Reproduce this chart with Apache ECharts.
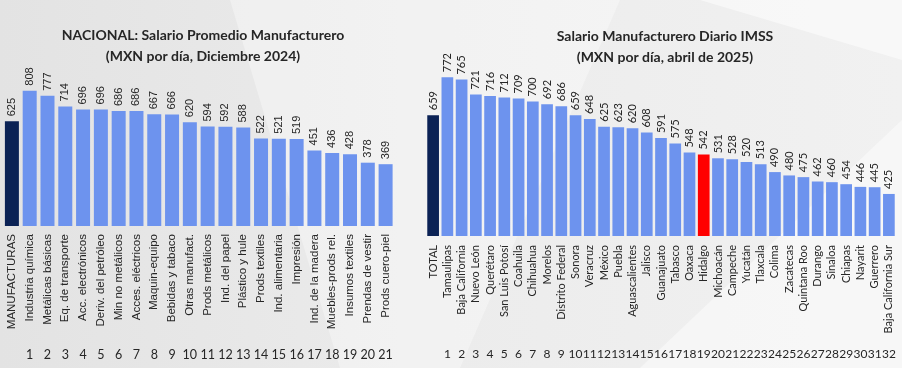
<!DOCTYPE html>
<html>
<head>
<meta charset="utf-8">
<script src="https://cdn.jsdelivr.net/npm/echarts@6/dist/echarts.min.js"></script>
<style>
html,body{margin:0;padding:0;background:#ebebeb;}
#chart{width:902px;height:368px;}
</style>
</head>
<body>
<div id="chart"></div>
<script>
// ---- Left panel data ----
const leftCategories = ['MANUFACTURAS','Industria química','Metálicas básicas','Eq. de transporte','Acc. electrónicos','Deriv. del petróleo','Min no metálicos','Acces. eléctricos','Maquin-equipo','Bebidas y tabaco','Otras manufact.','Prods metálicos','Ind. del papel','Plástico y hule','Prods textiles','Ind. alimentaria','Impresión','Ind. de la madera','Muebles-prods rel.','Insumos textiles','Prendas de vestir','Prods cuero-piel'];
const leftValues = [625,808,777,714,696,696,686,686,667,666,620,594,592,588,522,521,519,451,436,428,378,369];
const leftIndex = ['','1','2','3','4','5','6','7','8','9','10','11','12','13','14','15','16','17','18','19','20','21'];
const leftTitle = 'NACIONAL: Salario Promedio Manufacturero\n(MXN por día, Diciembre 2024)';

// ---- Right panel data ----
const rightCategories = ['TOTAL','Tamaulipas','Baja California','Nuevo León','Querétaro','San Luis Potosí','Coahuila','Chihuahua','Morelos','Distrito Federal','Sonora','Veracruz','México','Puebla','Aguascalientes','Jalisco','Guanajuato','Tabasco','Oaxaca','Hidalgo','Michoacán','Campeche','Yucatán','Tlaxcala','Colima','Zacatecas','Quintana Roo','Durango','Sinaloa','Chiapas','Nayarit','Guerrero','Baja California Sur'];
const rightValues = [659,772,765,721,716,712,709,700,692,686,659,648,625,623,620,608,591,575,548,542,531,528,520,513,490,480,475,462,460,454,446,445,425];
const rightIndex = ['','1','2','3','4','5','6','7','8','9','10','11','12','13','14','15','16','17','18','19','20','21','22','23','24','25','26','27','28','29','30','31','32'];
const rightTitle = 'Salario Manufacturero Diario IMSS\n(MXN por día, abril de 2025)';
const highlightState = 'Hidalgo';

const NAVY = '#0b2255', BLUE = '#6d93ee', RED = '#ff0000';
const txt = '#262626';

const chart = echarts.init(document.getElementById('chart'), null, {renderer:'canvas'});

const option = {
  backgroundColor: {
    type: 'linear', x: 0, y: 0, x2: 1, y2: 0,
    colorStops: [{offset:0,color:'#e3e3e3'},{offset:0.5,color:'#ececec'},{offset:1,color:'#f1f1f1'}]
  },
  animation: false,
  graphic: [
    {type:'polygon', z:-10, shape:{points:[[230,0],[620,0],[460,368],[340,368]]}, style:{fill:'rgba(255,255,255,0.35)'}},
    {type:'polygon', z:-10, shape:{points:[[640,368],[902,120],[902,368]]}, style:{fill:'rgba(255,255,255,0.45)'}},
    {type:'polygon', z:-10, shape:{points:[[700,0],[902,0],[902,60]]}, style:{fill:'rgba(255,255,255,0.5)'}}
  ],
  title: [
    {text: leftTitle, left: 198, top: 20, textAlign: 'center',
     textStyle:{fontFamily:'Lato', fontWeight:'bold', fontSize:14, lineHeight:21, color:'#262626'}},
    {text: rightTitle, left: 660, top: 21, textAlign: 'center',
     textStyle:{fontFamily:'Lato', fontWeight:'bold', fontSize:14, lineHeight:21, color:'#262626'}}
  ],
  grid: [
    {left: 3, width: 391.5, top: 75.25, height: 150.75},
    {left: 426, width: 470, top: 67.8, height: 168.2}
  ],
  xAxis: [
    {gridIndex:0, type:'category', data:leftCategories, position:'bottom',
     axisLine:{show:false}, axisTick:{show:false},
     axisLabel:{interval:0, rotate:90, margin:8, fontFamily:'Liberation Sans', fontSize:11.5, color:txt}},
    {gridIndex:0, type:'category', data:leftIndex, position:'bottom', offset:122,
     axisLine:{show:false}, axisTick:{show:false},
     axisLabel:{interval:0, margin:0, fontFamily:'Lato', fontSize:12.5, color:txt}},
    {gridIndex:1, type:'category', data:rightCategories, position:'bottom',
     axisLine:{show:false}, axisTick:{show:false},
     axisLabel:{interval:0, rotate:90, margin:9, fontFamily:'Lato', fontSize:11, color:txt}},
    {gridIndex:1, type:'category', data:rightIndex, position:'bottom', offset:112,
     axisLine:{show:false}, axisTick:{show:false},
     axisLabel:{interval:0, margin:0, fontFamily:'Lato', fontSize:12, color:txt}}
  ],
  yAxis: [
    {gridIndex:0, type:'value', min:0, max:900, show:false},
    {gridIndex:1, type:'value', min:300, max:800, show:false}
  ],
  series: [
    {type:'bar', xAxisIndex:0, yAxisIndex:0, barWidth:14,
     data: leftValues.map((v,i)=>({value:v, itemStyle:{color: i===0?NAVY:BLUE}})),
     label:{show:true, position:'top', rotate:90, align:'left', verticalAlign:'middle', distance:5,
            fontFamily:'Liberation Sans', fontSize:11, color:txt}},
    {type:'bar', xAxisIndex:2, yAxisIndex:1, barWidth:11.7,
     data: rightValues.map((v,i)=>({value:v, itemStyle:{color: i===0?NAVY:(rightCategories[i]===highlightState?RED:BLUE)}})),
     label:{show:true, position:'top', rotate:90, align:'left', verticalAlign:'middle', distance:5,
            fontFamily:'Lato', fontSize:11, color:txt}}
  ]
};
chart.setOption(option);
</script>
</body>
</html>
